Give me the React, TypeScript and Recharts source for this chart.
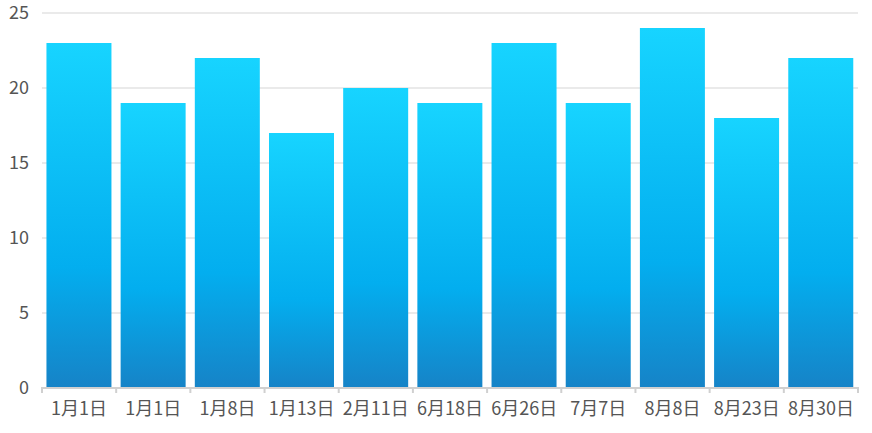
import { BarChart, Bar, XAxis, YAxis, CartesianGrid } from "recharts"

const DAYS = ["1月1日", "1月1日", "1月8日", "1月13日", "2月11日", "6月18日", "6月26日", "7月7日", "8月8日", "8月23日", "8月30日"]
const COUNTS = [23, 19, 22, 17, 20, 19, 23, 19, 24, 18, 22]
const Y_TICKS = [0, 5, 10, 15, 20, 25]

const FONT = "'Noto Sans CJK SC', 'Noto Sans', sans-serif"
const W = 872
const LEFT = 42
const RIGHT = 14
const BAND = (W - LEFT - RIGHT) / DAYS.length

// label in the middle of the band, tick marks on the band edges
function DayTick(props: any) {
    const { x, y, payload, index } = props
    const last = index === DAYS.length - 1
    return (
        <g>
            <line x1={x - BAND / 2} x2={x - BAND / 2} y1={y - 1} y2={y + 5} stroke="#d0d0d0" strokeWidth={2} />
            {last && <line x1={x + BAND / 2} x2={x + BAND / 2} y1={y - 1} y2={y + 5} stroke="#d0d0d0" strokeWidth={2} />}
            <text x={x} y={y + 14} dy="0.71em" textAnchor="middle" fill="#555" fontSize={18} fontFamily={FONT}>
                {payload.value}
            </text>
        </g>
    )
}

export default function App() {
    const data = DAYS.map((day, i) => ({ day, count: COUNTS[i] }))
    return (
        <div style={{ position: "absolute", left: 0, top: 0, fontFamily: FONT }}>
            <BarChart
                width={W}
                height={433}
                data={data}
                margin={{ top: 13, right: RIGHT, bottom: 0, left: 0 }}
                barCategoryGap="6%"
            >
                <defs>
                    <linearGradient id="barFill" x1="0" y1="0" x2="0" y2="1">
                        <stop offset="0%" stopColor="#17D4FF" />
                        <stop offset="65%" stopColor="#03AEEF" />
                        <stop offset="100%" stopColor="#1683C7" />
                    </linearGradient>
                </defs>
                <CartesianGrid vertical={false} stroke="#e3e3e3" strokeWidth={1.5} />
                <XAxis
                    dataKey="day"
                    interval={0}
                    height={45}
                    tickSize={0}
                    tickMargin={0}
                    axisLine={{ stroke: "#d0d0d0", strokeWidth: 2 }}
                    tickLine={false}
                    tick={<DayTick />}
                />
                <YAxis
                    width={LEFT}
                    domain={[0, 25]}
                    ticks={Y_TICKS}
                    axisLine={false}
                    tickLine={false}
                    tickMargin={7}
                    tick={{ fill: "#555", fontSize: 18, fontFamily: FONT }}
                />
                <Bar dataKey="count" fill="url(#barFill)" isAnimationActive={false} />
            </BarChart>
        </div>
    )
}
